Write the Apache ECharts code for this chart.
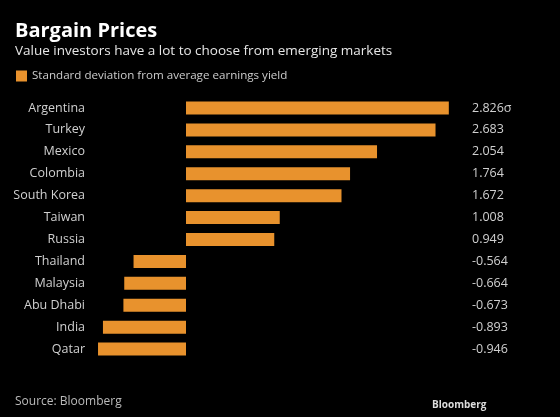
<!DOCTYPE html>
<html><head><meta charset="utf-8">
<script src="https://cdn.jsdelivr.net/npm/echarts@6/dist/echarts.min.js"></script>
<style>html,body{margin:0;padding:0;background:#000;}#c{width:560px;height:417px;}</style>
</head><body><div id="c"></div>
<script>
const categories = ["Argentina","Turkey","Mexico","Colombia","South Korea","Taiwan","Russia","Thailand","Malaysia","Abu Dhabi","India","Qatar"];
const values = [2.826,2.683,2.054,1.764,1.672,1.008,0.949,-0.564,-0.664,-0.673,-0.893,-0.946];
const seriesName = "Standard deviation from average earnings yield";
const valueLabels = values.map((v,i)=> v.toFixed(3) + (i===0 ? "σ" : ""));

const FONT = "'Open Sans', sans-serif";
const chart = echarts.init(document.getElementById('c'), null, {renderer:'canvas'});
chart.setOption({
  backgroundColor: '#000',
  animation: false,
  title: [
    {text: 'Bargain Prices', left: 15, top: 21, padding: 0, textStyle:{color:'#fff', fontSize:20, fontWeight:'bold', fontFamily:FONT}},
    {text: 'Value investors have a lot to choose from emerging markets', left: 15, top: 44, padding: 0, textStyle:{color:'#e6e6e6', fontSize:13.5, fontWeight:'normal', fontFamily:FONT}},
    {text: 'Source: Bloomberg', left: 15, top: 396, padding: 0, textStyle:{color:'#bbb', fontSize:12, fontWeight:'normal', fontFamily:FONT}},
    {text: 'Bloomberg', left: 432, top: 400, padding: 0, textStyle:{color:'#ddd', fontSize:10, fontWeight:'bold', fontFamily:FONT}}
  ],
  legend: {
    left: 11, top: 65, icon: 'rect', itemWidth: 11, itemHeight: 11, itemGap: 8,
    data: [seriesName],
    textStyle: {color:'#ccc', fontSize:11.6, fontFamily:FONT}
  },
  grid: {left: 93, right: 95, top: 97, bottom: 57, containLabel: false},
  xAxis: {type:'value', min:-1, max:3, show:false},
  yAxis: [
    {type:'category', data:categories, inverse:true, position:'left',
     axisLine:{show:false}, axisTick:{show:false},
     axisLabel:{color:'#d0d0d0', fontSize:12.5, fontFamily:FONT, margin:8}},
    {type:'category', data:valueLabels, inverse:true, position:'right',
     axisLine:{show:false}, axisTick:{show:false},
     axisLabel:{color:'#d0d0d0', fontSize:12.5, fontFamily:FONT, margin:7, align:'left'}}
  ],
  series: [{
    name: seriesName, type:'bar', data: values, barWidth: 13,
    itemStyle:{color:'#E8922D'}
  }]
});
</script></body></html>
